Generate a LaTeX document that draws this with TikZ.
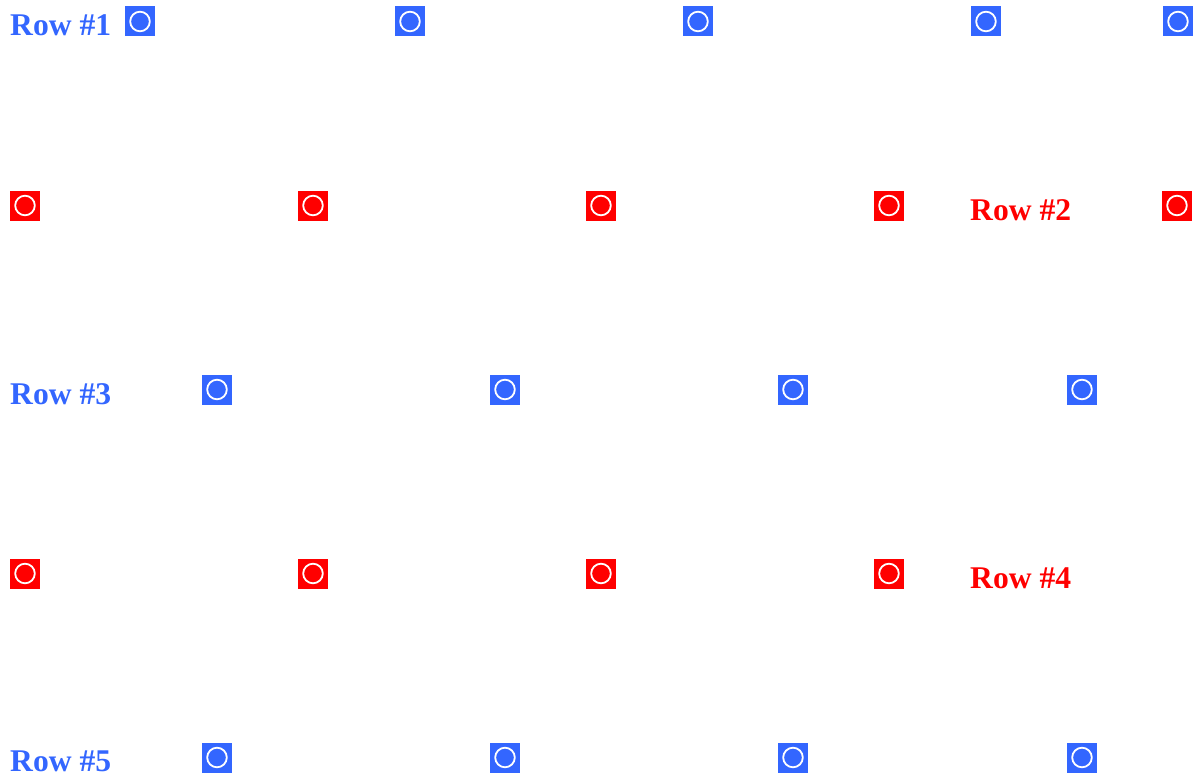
\documentclass[tikz,border=0pt]{standalone}
\usepackage{fontspec}
\setmainfont{Liberation Serif}
\definecolor{rowblue}{RGB}{51,102,255}
\definecolor{rowred}{RGB}{255,0,0}
\begin{document}
\begin{tikzpicture}[x=1pt,y=-1pt,
  mark box/.style={rectangle, minimum size=30pt, inner sep=0pt, fill=#1,
    path picture={\draw[white,line width=1.8pt] (path picture bounding box.center) circle (9.8pt);}},
  rowlabel/.style={anchor=base west, inner sep=0pt, text=#1,
    font=\bfseries\fontsize{31.6}{31.6}\selectfont}]
\useasboundingbox[fill=white] (0,0) rectangle (1195,776);
% Row 1
\node[rowlabel=rowblue] (l1) at (10,36) {Row \#1};
\node[mark box=rowblue] (a1) at (140,21.5) {};
\node[mark box=rowblue] (a2) at (410,21.5) {};
\node[mark box=rowblue] (a3) at (698,21.5) {};
\node[mark box=rowblue] (a4) at (986,21.5) {};
\node[mark box=rowblue] (a5) at (1178,21.5) {};
% Row 2
\node[mark box=rowred] (b1) at (25,205.5) {};
\node[mark box=rowred] (b2) at (313,205.5) {};
\node[mark box=rowred] (b3) at (601,205.5) {};
\node[mark box=rowred] (b4) at (889,205.5) {};
\node[rowlabel=rowred] (l2) at (970,220) {Row \#2};
\node[mark box=rowred] (b5) at (1177,205.5) {};
% Row 3
\node[rowlabel=rowblue] (l3) at (10,404) {Row \#3};
\node[mark box=rowblue] (c1) at (217,389.5) {};
\node[mark box=rowblue] (c2) at (505,389.5) {};
\node[mark box=rowblue] (c3) at (793,389.5) {};
\node[mark box=rowblue] (c4) at (1082,389.5) {};
% Row 4
\node[mark box=rowred] (d1) at (25,573.5) {};
\node[mark box=rowred] (d2) at (313,573.5) {};
\node[mark box=rowred] (d3) at (601,573.5) {};
\node[mark box=rowred] (d4) at (889,573.5) {};
\node[rowlabel=rowred] (l4) at (970,588) {Row \#4};
% Row 5
\node[rowlabel=rowblue] (l5) at (10,771) {Row \#5};
\node[mark box=rowblue] (e1) at (217,757.5) {};
\node[mark box=rowblue] (e2) at (505,757.5) {};
\node[mark box=rowblue] (e3) at (793,757.5) {};
\node[mark box=rowblue] (e4) at (1082,757.5) {};
\end{tikzpicture}
\end{document}
